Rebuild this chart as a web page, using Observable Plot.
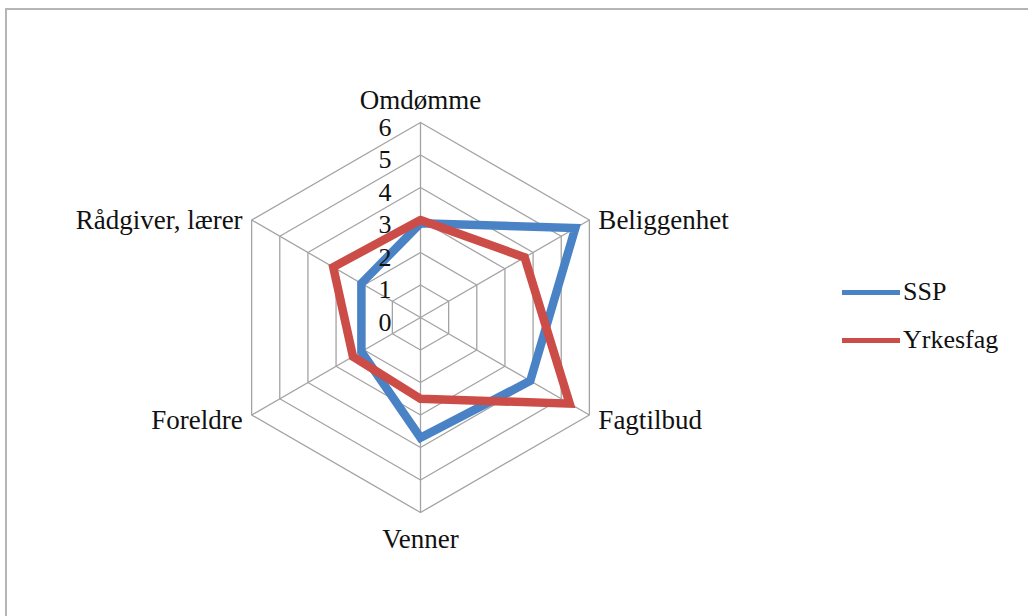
<!DOCTYPE html>
<html>
<head>
<meta charset="utf-8">
<script src="https://cdn.jsdelivr.net/npm/d3@7"></script>
<script src="https://cdn.jsdelivr.net/npm/@observablehq/plot@0.6"></script>
<style>
  html, body { margin: 0; padding: 0; background: #fff; }
  #wrap { position: relative; width: 1028px; height: 616px; overflow: hidden; background: #fff; }
  #frame { position: absolute; left: 5px; top: 8px; width: 1040px; height: 640px; border-left: 2px solid #b5b5b5; border-top: 2px solid #b5b5b5; box-sizing: border-box; pointer-events: none; }
  #legend { position: absolute; left: 842px; top: 268px; font-family: "Liberation Serif", serif; font-size: 26px; color: #111; }
  .item { display: flex; align-items: center; height: 48px; }
  .sw { width: 58px; height: 5px; margin-right: 3px; }
  svg { display: block; }
</style>
</head>
<body>
<div id="wrap">
  <div id="chart"></div>
  <div id="frame"></div>
  <div id="legend"></div>
</div>
<script>
const categories = ["Omdømme", "Beliggenhet", "Fagtilbud", "Venner", "Foreldre", "Rådgiver, lærer"];
const seriesNames = ["SSP", "Yrkesfag"];
const sspValues = [2.9, 5.5, 3.9, 3.7, 2.1, 2.1];
const yrkesfagValues = [3.0, 3.7, 5.3, 2.5, 2.4, 3.1];
const tickValues = [0, 1, 2, 3, 4, 5, 6];
const colors = ["#4a82c6", "#cc4c47"];

const maxV = 6;
const n = categories.length;
const ang = i => (i % n) * 2 * Math.PI / n;
const px = (r, i) => r * Math.sin(ang(i));
const py = (r, i) => r * Math.cos(ang(i));

const seriesRows = [];
[sspValues, yrkesfagValues].forEach((vals, s) => {
  for (let i = 0; i <= n; i++) {
    const v = vals[i % n];
    seriesRows.push({series: seriesNames[s], cat: categories[i % n], x: px(v, i), y: py(v, i)});
  }
});

const gridRows = [];
tickValues.filter(t => t > 0).forEach(t => {
  for (let i = 0; i <= n; i++) gridRows.push({level: t, x: px(t, i), y: py(t, i)});
});

const spokes = categories.map((c, i) => ({cat: c, x2: px(maxV, i), y2: py(maxV, i)}));
const labels = categories.map((c, i) => ({cat: c, i, x: px(maxV, i), y: py(maxV, i)}));
const tickRows = tickValues.map(t => ({t, x: 0, y: t}));

const unit = 32.5, cx = 420, cy = 317, W = 1028, H = 616;
const font = "Liberation Serif, Times New Roman, serif";
const fs = 27;

const chart = Plot.plot({
  width: W, height: H, margin: 0,
  style: {fontFamily: font, background: "transparent"},
  x: {domain: [-cx / unit, (W - cx) / unit], axis: null},
  y: {domain: [-(H - cy) / unit, cy / unit], axis: null},
  color: {domain: seriesNames, range: colors},
  marks: [
    Plot.link(spokes, {x1: 0, y1: 0, x2: "x2", y2: "y2", stroke: "#a3a3a3", strokeWidth: 1.3}),
    Plot.line(gridRows, {x: "x", y: "y", z: "level", stroke: "#a3a3a3", strokeWidth: 1.3}),
    Plot.line(seriesRows, {x: "x", y: "y", z: "series", stroke: "series", strokeWidth: 8.5, strokeLinejoin: "miter", strokeMiterlimit: 10}),
    Plot.text(tickRows, {x: "x", y: "y", text: d => String(d.t), textAnchor: "end", dx: -29, dy: 5, fontSize: 26, fill: "#111"}),
    Plot.text(labels.filter(d => d.i === 0), {x: "x", y: "y", text: "cat", textAnchor: "middle", dy: -22, fontSize: fs, fill: "#111"}),
    Plot.text(labels.filter(d => d.i === 3), {x: "x", y: "y", text: "cat", textAnchor: "middle", dy: 27, fontSize: fs, fill: "#111"}),
    Plot.text(labels.filter(d => d.i === 1), {x: "x", y: "y", text: "cat", textAnchor: "start", dx: 9, dy: 0, fontSize: fs, fill: "#111"}),
    Plot.text(labels.filter(d => d.i === 2), {x: "x", y: "y", text: "cat", textAnchor: "start", dx: 9, dy: 5, fontSize: fs, fill: "#111"}),
    Plot.text(labels.filter(d => d.i === 4), {x: "x", y: "y", text: "cat", textAnchor: "end", dx: -9, dy: 5, fontSize: fs, fill: "#111"}),
    Plot.text(labels.filter(d => d.i === 5), {x: "x", y: "y", text: "cat", textAnchor: "end", dx: -9, dy: 0, fontSize: fs, fill: "#111"})
  ]
});
document.getElementById("chart").appendChild(chart);

const legend = document.getElementById("legend");
seriesNames.forEach((s, k) => {
  const item = document.createElement("div");
  item.className = "item";
  const sw = document.createElement("div");
  sw.className = "sw";
  sw.style.background = colors[k];
  const t = document.createElement("span");
  t.textContent = s;
  item.appendChild(sw);
  item.appendChild(t);
  legend.appendChild(item);
});
</script>
</body>
</html>
